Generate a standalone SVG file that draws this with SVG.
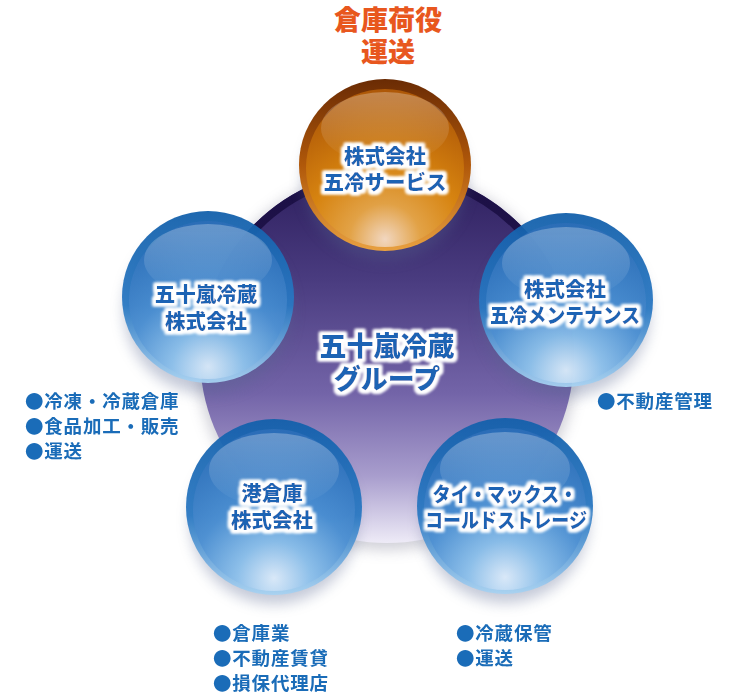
<svg xmlns="http://www.w3.org/2000/svg" width="750" height="700" viewBox="0 0 750 700">
<defs>
<style>
.t{font-family:"Noto Sans CJK JP","Noto Sans",sans-serif;font-weight:900;}
.ball{fill:#1a64b4;font-size:20.5px;text-anchor:middle;}
.bul{fill:#1a6cb8;font-size:18.5px;letter-spacing:0.8px;font-weight:700;}
</style>
<linearGradient id="purple" x1="0" y1="0" x2="0" y2="1">
<stop offset="0" stop-color="#2c1d5c"/>
<stop offset="0.3" stop-color="#4a3c80"/>
<stop offset="0.6" stop-color="#7364a8"/>
<stop offset="0.82" stop-color="#a89dcd"/>
<stop offset="1" stop-color="#eeebf7"/>
</linearGradient>
<linearGradient id="ring" x1="0" y1="0" x2="0" y2="1">
<stop offset="0" stop-color="#1c1046"/>
<stop offset="0.3" stop-color="#1c1046" stop-opacity="0.9"/>
<stop offset="0.45" stop-color="#2c1d5c" stop-opacity="0"/>
</linearGradient>
<linearGradient id="bRing" x1="0" y1="0" x2="0" y2="1">
<stop offset="0" stop-color="#1360ab"/>
<stop offset="0.55" stop-color="#2a78c2"/>
<stop offset="1" stop-color="#a8d2f2"/>
</linearGradient>
<radialGradient id="bIn" cx="0.5" cy="0.92" r="0.9">
<stop offset="0" stop-color="#e4eefa"/>
<stop offset="0.25" stop-color="#8ec0ea"/>
<stop offset="0.55" stop-color="#4e90d2"/>
<stop offset="1" stop-color="#2e6fb9"/>
</radialGradient>
<linearGradient id="oRing" x1="0" y1="0" x2="0" y2="1">
<stop offset="0" stop-color="#6a2b04"/>
<stop offset="0.5" stop-color="#b0580a"/>
<stop offset="1" stop-color="#e8a040"/>
</linearGradient>
<radialGradient id="oIn" cx="0.5" cy="0.95" r="0.9">
<stop offset="0" stop-color="#f3dccb"/>
<stop offset="0.25" stop-color="#e3a448"/>
<stop offset="0.55" stop-color="#d8850f"/>
<stop offset="1" stop-color="#b35c08"/>
</radialGradient>
<linearGradient id="gloss" x1="0" y1="0" x2="0" y2="1">
<stop offset="0" stop-color="#fff" stop-opacity="0.28"/>
<stop offset="1" stop-color="#fff" stop-opacity="0"/>
</linearGradient>
<filter id="blur" x="-30%" y="-30%" width="160%" height="160%"><feGaussianBlur stdDeviation="7"/></filter>
<filter id="glow" x="-20%" y="-50%" width="140%" height="200%">
<feMorphology in="SourceAlpha" operator="dilate" radius="2.5" result="d"/>
<feGaussianBlur in="d" stdDeviation="1.8" result="b"/>
<feFlood flood-color="#ffffff"/>
<feComposite in2="b" operator="in" result="w"/>
<feMerge><feMergeNode in="w"/><feMergeNode in="w"/><feMergeNode in="SourceGraphic"/></feMerge>
</filter>
</defs>
<rect width="750" height="700" fill="#fff"/>

<g id="label-top" class="t" fill="#e8571e" font-size="27" font-weight="700" text-anchor="middle">
<text x="388" y="30">倉庫荷役</text>
<text x="388" y="62">運送</text>
</g>

<g id="node-group">
<circle cx="387" cy="360" r="190" fill="#7a7a90" opacity="0.35" filter="url(#blur)"/>
<circle cx="387" cy="356" r="187" fill="url(#purple)"/>
<circle cx="387" cy="356" r="183" fill="none" stroke="url(#ring)" stroke-width="8"/>
</g>

<g id="shadows" fill="#56658f" opacity="0.35">
<circle cx="385" cy="178" r="82" filter="url(#blur)"/>
<circle cx="208" cy="310" r="84" filter="url(#blur)"/>
<circle cx="566" cy="313" r="84" filter="url(#blur)"/>
<circle cx="274" cy="520" r="84" filter="url(#blur)"/>
<circle cx="505" cy="519" r="84" filter="url(#blur)"/>
</g>

<g id="node-service">
<circle cx="385" cy="165" r="86" fill="url(#oRing)"/>
<circle cx="385" cy="168" r="79" fill="url(#oIn)" fill-opacity="0.92"/>
<ellipse cx="385" cy="128" rx="64" ry="36" fill="url(#gloss)"/>
<g class="t ball" filter="url(#glow)">
<text x="385" y="164">株式会社</text>
<text x="385" y="190">五冷サービス</text>
</g>
</g>

<g id="node-reizo">
<circle cx="208" cy="297" r="86" fill="url(#bRing)" fill-opacity="0.95"/>
<circle cx="208" cy="300" r="79" fill="url(#bIn)" fill-opacity="0.82"/>
<ellipse cx="208" cy="260" rx="64" ry="36" fill="url(#gloss)"/>
<g class="t ball" filter="url(#glow)">
<text x="206" y="302">五十嵐冷蔵</text>
<text x="206" y="329">株式会社</text>
</g>
</g>

<g id="node-maintenance">
<circle cx="566" cy="300" r="87" fill="url(#bRing)" fill-opacity="0.95"/>
<circle cx="566" cy="303" r="80" fill="url(#bIn)" fill-opacity="0.82"/>
<ellipse cx="566" cy="263" rx="64" ry="36" fill="url(#gloss)"/>
<g class="t ball" filter="url(#glow)">
<text x="565" y="297">株式会社</text>
<text x="565" y="323" textLength="150" lengthAdjust="spacingAndGlyphs">五冷メンテナンス</text>
</g>
</g>

<g id="node-minato">
<circle cx="274" cy="507" r="88" fill="url(#bRing)" fill-opacity="0.95"/>
<circle cx="274" cy="510" r="81" fill="url(#bIn)" fill-opacity="0.86"/>
<ellipse cx="274" cy="470" rx="65" ry="37" fill="url(#gloss)"/>
<g class="t ball" filter="url(#glow)">
<text x="272" y="501">港倉庫</text>
<text x="272" y="528">株式会社</text>
</g>
</g>

<g id="node-taimax">
<circle cx="505" cy="506" r="88" fill="url(#bRing)" fill-opacity="0.95"/>
<circle cx="505" cy="509" r="81" fill="url(#bIn)" fill-opacity="0.86"/>
<ellipse cx="505" cy="469" rx="65" ry="37" fill="url(#gloss)"/>
<g class="t ball" filter="url(#glow)">
<text x="505" y="502" textLength="145" lengthAdjust="spacingAndGlyphs">タイ・マックス・</text>
<text x="506" y="528" textLength="162" lengthAdjust="spacingAndGlyphs">コールドストレージ</text>
</g>
</g>

<g id="label-center" class="t" fill="#1a64b4" font-size="27" text-anchor="middle" filter="url(#glow)">
<text x="387" y="356">五十嵐冷蔵</text>
<text x="387" y="389">グループ</text>
</g>

<g id="list-reizo" class="t bul">
<text x="25" y="408">●冷凍・冷蔵倉庫</text>
<text x="25" y="433">●食品加工・販売</text>
<text x="25" y="458">●運送</text>
</g>
<g id="list-maintenance" class="t bul">
<text x="597" y="408">●不動産管理</text>
</g>
<g id="list-minato" class="t bul">
<text x="213" y="640">●倉庫業</text>
<text x="213" y="665">●不動産賃貸</text>
<text x="213" y="690">●損保代理店</text>
</g>
<g id="list-taimax" class="t bul">
<text x="456" y="640">●冷蔵保管</text>
<text x="456" y="665">●運送</text>
</g>
</svg>
